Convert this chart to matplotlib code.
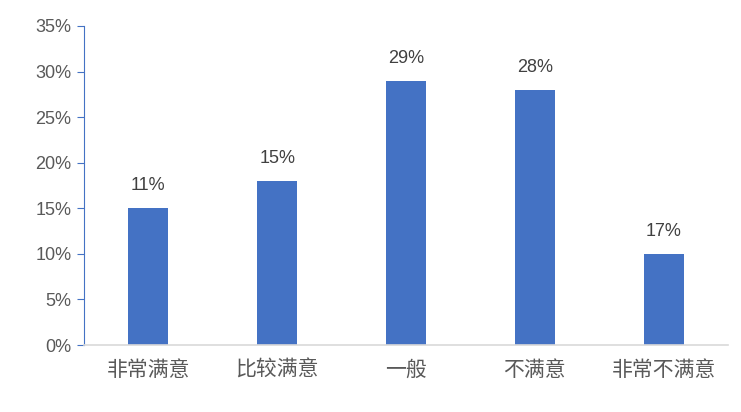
import matplotlib
matplotlib.use("Agg")
import matplotlib.pyplot as plt

plt.rcParams['font.family'] = ['Noto Sans CJK SC', 'DejaVu Sans']

categories = ["非常满意", "比较满意", "一般", "不满意", "非常不满意"]
values = [15, 18, 29, 28, 10]
labels = ["11%", "15%", "29%", "28%", "17%"]
yticks = [0, 5, 10, 15, 20, 25, 30, 35]

num_font = ['Liberation Sans', 'DejaVu Sans']

fig = plt.figure(figsize=(7.41, 4.12), dpi=100)
ax = fig.add_axes([84/741, 1-345/412, 644/741, 319/412])
x = list(range(len(categories)))
ax.bar(x, values, width=0.31, color="#4472C4", zorder=2)
for xi, v, lab in zip(x, values, labels):
    ax.text(xi, v + 1.55, lab, ha="center", va="bottom", fontsize=13,
            color="#404040", family=num_font)

ax.set_xlim(-0.5, len(categories) - 0.5)
ax.set_ylim(0, 35)
ax.set_yticks(yticks)
ax.set_yticklabels([f"{t}%" for t in yticks], fontsize=13, color="#595959",
                   family=num_font)
ax.set_xticks(x)
ax.set_xticklabels(categories, fontsize=15, color="#595959")
ax.tick_params(axis='x', length=0, pad=10)
ax.tick_params(axis='y', length=5, color="#4472C4", pad=4)
for s in ["top", "right"]:
    ax.spines[s].set_visible(False)
ax.spines["left"].set_color("#4472C4")
ax.spines["bottom"].set_color("#D9D9D9")
ax.spines["bottom"].set_linewidth(1.2)

fig.savefig("out.png", dpi=100)
